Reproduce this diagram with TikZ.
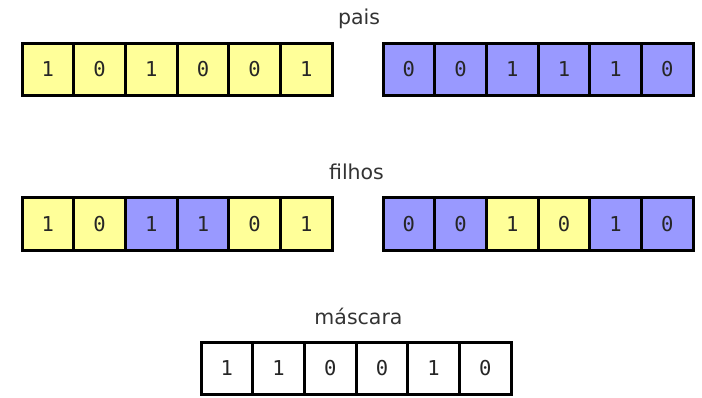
\documentclass[tikz,border=0pt]{standalone}
\usepackage{fontspec}
\setmainfont{DejaVu Sans}
\newfontfamily\digitfont{DejaVu Sans Mono}
\definecolor{pyel}{HTML}{FFFF99}
\definecolor{pblu}{HTML}{9999FF}
\begin{document}
\begin{tikzpicture}[x=1pt,y=-1pt,
  cell/.style={draw=black, line width=3pt, minimum width=51.7pt, minimum height=52.5pt,
    inner sep=0pt, font=\digitfont\fontsize{20.5}{20.5}\selectfont, text=black!85},
  lbl/.style={font=\fontsize{20.5}{20.5}\selectfont, text=black!80, anchor=base, inner sep=0pt}]
\useasboundingbox (0,0) rectangle (702,398);
% labels
\node[lbl] (tpais) at (359,25) {pais};
\node[lbl] (tfilhos) at (356.5,180) {filhos};
\node[lbl] (tmasc) at (358.5,325) {máscara};
% pais
\foreach \v/\c [count=\i] in {1/pyel,0/pyel,1/pyel,0/pyel,0/pyel,1/pyel}
  \node[cell, fill=\c] (pa\i) at ({22+51.7*(\i-0.5)},69.5) {\v};
\foreach \v/\c [count=\i] in {0/pblu,0/pblu,1/pblu,1/pblu,1/pblu,0/pblu}
  \node[cell, fill=\c] (pb\i) at ({383+51.7*(\i-0.5)},69.5) {\v};
% filhos
\foreach \v/\c [count=\i] in {1/pyel,0/pyel,1/pblu,1/pblu,0/pyel,1/pyel}
  \node[cell, fill=\c] (fa\i) at ({22+51.7*(\i-0.5)},224) {\v};
\foreach \v/\c [count=\i] in {0/pblu,0/pblu,1/pyel,0/pyel,1/pblu,0/pblu}
  \node[cell, fill=\c] (fb\i) at ({383+51.7*(\i-0.5)},224) {\v};
% mascara
\foreach \v [count=\i] in {1,1,0,0,1,0}
  \node[cell, fill=white] (m\i) at ({201+51.7*(\i-0.5)},368.5) {\v};
\end{tikzpicture}
\end{document}
